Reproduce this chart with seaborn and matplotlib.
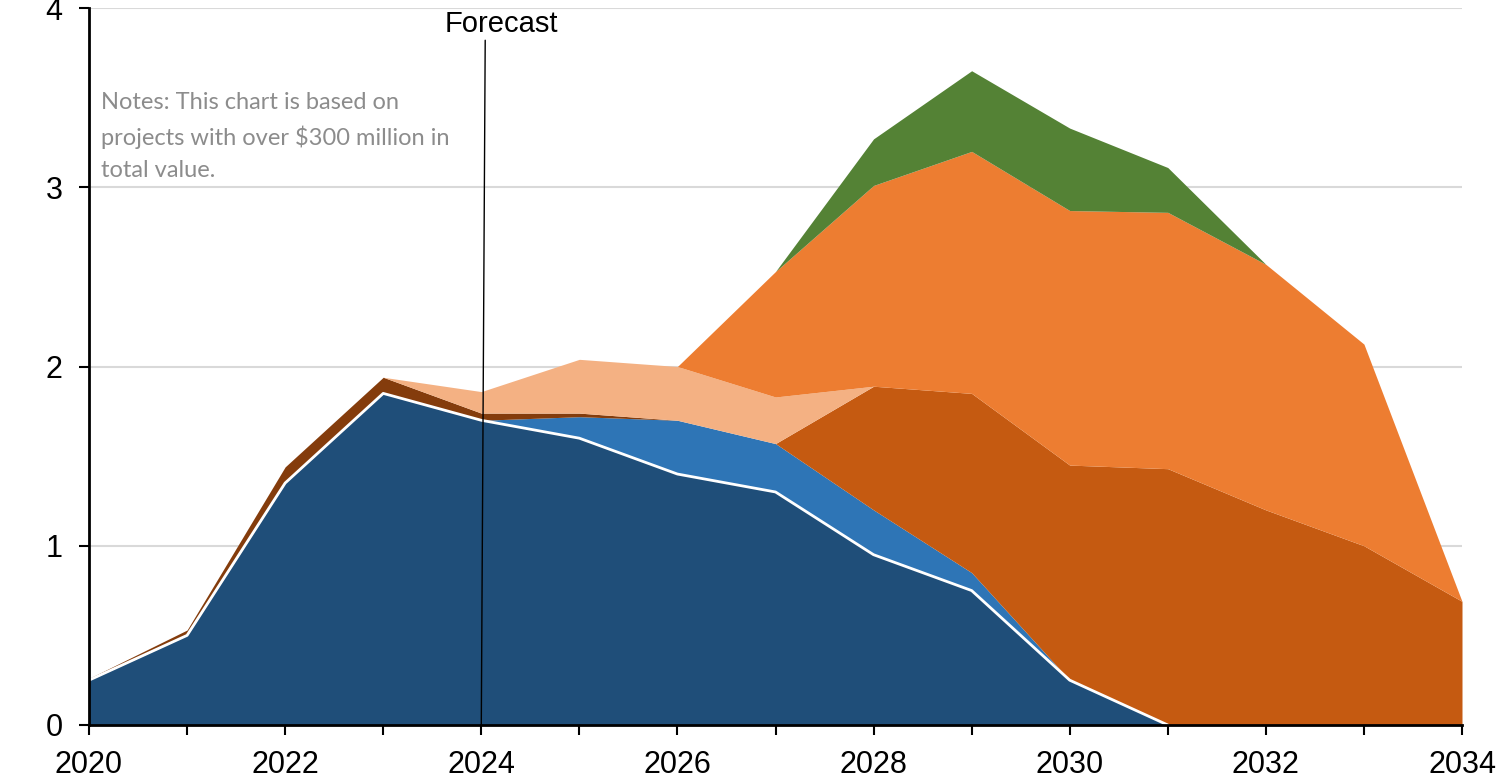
import numpy as np
import pandas as pd
import seaborn as sns
import matplotlib.pyplot as plt

# values
years = list(range(2020, 2035))
navy = [0.25, 0.50, 1.35, 1.85, 1.70, 1.60, 1.40, 1.30, 0.95, 0.75, 0.25, 0, 0, 0, 0]
blue = [0, 0, 0, 0, 0, 0.12, 0.30, 0.27, 0.25, 0.10, 0, 0, 0, 0, 0]
brown = [0.01, 0.03, 0.09, 0.09, 0.04, 0.02, 0, 0, 0, 0, 0, 0, 0, 0, 0]
dark_orange = [0, 0, 0, 0, 0, 0, 0, 0, 0.69, 1.00, 1.20, 1.43, 1.20, 1.00, 0.69]
peach = [0, 0, 0, 0, 0.12, 0.30, 0.30, 0.26, 0, 0, 0, 0, 0, 0, 0]
orange = [0, 0, 0, 0, 0, 0, 0, 0.70, 1.12, 1.35, 1.42, 1.43, 1.37, 1.125, 0]
green = [0, 0, 0, 0, 0, 0, 0, 0, 0.26, 0.45, 0.46, 0.25, 0, 0, 0]

colors = ["#1F4E79", "#2E75B6", "#843C0C", "#C55A11", "#F4B183", "#ED7D31", "#548235"]
y_ticks = [0, 1, 2, 3, 4]
x_labels = [str(y) if y % 2 == 0 else "" for y in years]

df = pd.DataFrame({"year": years, "navy": navy})

sns.set_style("white")
plt.rcParams["font.family"] = ["Liberation Sans", "DejaVu Sans"]

fig = plt.figure(figsize=(14.99, 7.79), dpi=100)
ax = fig.add_axes([89 / 1499, 1 - 725 / 779, (1462 - 89) / 1499, (725 - 8) / 779])

ax.stackplot(years, navy, blue, brown, dark_orange, peach, orange, green,
             colors=colors, linewidth=0, zorder=2)

# white edge along top of the navy series
edge = df[df["year"] <= 2031]
sns.lineplot(data=edge, x="year", y="navy", color="white", linewidth=2, ax=ax, zorder=3)

ax.set_xlim(2020, 2034)
ax.set_ylim(0, 4)
ax.set_xticks(years)
ax.set_xticklabels(x_labels)
ax.set_yticks(y_ticks)
ax.set_yticklabels([str(v) for v in y_ticks])
ax.tick_params(axis="both", labelsize=22, length=7, width=1.5, direction="out",
               color="black", labelcolor="black", bottom=True, left=True)
ax.tick_params(axis="x", pad=11)
ax.tick_params(axis="y", pad=12)
ax.set_xlabel("")
ax.set_ylabel("")

ax.grid(axis="y", color="#D9D9D9", linewidth=1.5, zorder=0)
ax.set_axisbelow(True)
for side in ["top", "right"]:
    ax.spines[side].set_visible(False)
for side in ["left", "bottom"]:
    ax.spines[side].set_color("black")
    ax.spines[side].set_linewidth(2)
    ax.spines[side].set_zorder(5)

# forecast marker
ax.plot([2024.04, 2024.0], [3.82, 0], color="black", linewidth=1, zorder=4)
ax.text(2024.2, 3.91, "Forecast", fontsize=21, color="black", ha="center", va="center", zorder=6)

ax.text(2020.12, 3.53, "Notes: This chart is based on\nprojects with over $300 million in\ntotal value.",
        fontsize=17, color="#8C8C8C", ha="left", va="top", linespacing=1.65,
        family=["Lato", "DejaVu Sans"], zorder=6)

fig.savefig("out.png", dpi=100)
